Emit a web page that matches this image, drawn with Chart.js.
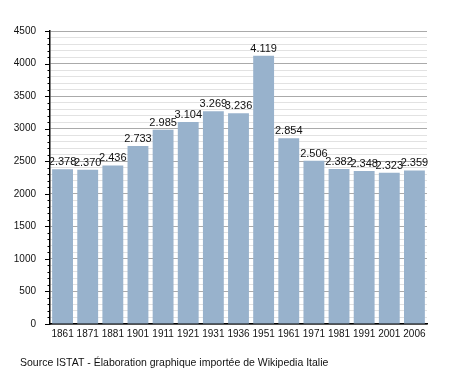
<!DOCTYPE html>
<html><head><meta charset="utf-8">
<script src="https://cdn.jsdelivr.net/npm/chart.js@4/dist/chart.umd.min.js"></script>
<style>html,body{margin:0;padding:0;background:#fff}#wrap{width:455px;height:373px}</style>
</head><body><div id="wrap"><canvas id="c" width="455" height="373"></canvas></div>
<script>
const categories = ["1861","1871","1881","1901","1911","1921","1931","1936","1951","1961","1971","1981","1991","2001","2006"];
const population = [2378,2370,2436,2733,2985,3104,3269,3236,4119,2854,2506,2382,2348,2323,2359];
const sourceText = "Source ISTAT - Élaboration graphique importée de Wikipedia Italie";
const FONT = "'Liberation Sans', Arial, sans-serif";

function fmt(v){ const s=String(v); return s.length>3 ? s.slice(0,s.length-3)+"."+s.slice(-3) : s; }

const labelPlugin = {
  id:'vals',
  afterDatasetsDraw(chart){
    const ctx=chart.ctx; const meta=chart.getDatasetMeta(0);
    ctx.save(); ctx.font="11px "+FONT; ctx.fillStyle="#111"; ctx.textAlign="center"; ctx.textBaseline="alphabetic";
    meta.data.forEach((el,i)=>{ ctx.fillText(fmt(population[i]), el.x, el.y-4); });
    ctx.restore();
  },
  afterDraw(chart){
    const ctx=chart.ctx; const y=chart.scales.y; const x0=y.right;
    ctx.save(); ctx.strokeStyle='#000'; ctx.lineWidth=1;
    y.ticks.forEach(t=>{
      const py=Math.round(y.getPixelForValue(t.value))+0.5;
      const len = t.value%500===0 ? 5 : 2.5;
      ctx.beginPath(); ctx.moveTo(x0-len,py); ctx.lineTo(x0,py); ctx.stroke();
    });
    ctx.restore();
    ctx.save(); ctx.font="10.5px "+FONT; ctx.fillStyle="#111"; ctx.textAlign="left"; ctx.textBaseline="alphabetic";
    ctx.fillText(sourceText, 20, 366); ctx.restore();
  }
};

new Chart(document.getElementById('c'), {
  type:'bar',
  data:{ labels:categories, datasets:[{ data:population, backgroundColor:'#98b2cc', borderWidth:0, barPercentage:0.83, categoryPercentage:1 }]},
  options:{
    responsive:false, animation:false,
    layout:{ padding:{ left:0, right:28, top:31, bottom:29 } },
    plugins:{ legend:{display:false}, tooltip:{enabled:false} },
    scales:{
      x:{
        grid:{ display:false, drawTicks:false },
        border:{ color:'#000', width:1.5 },
        ticks:{ color:'#111', font:{ family:FONT, size:10 }, padding:4, maxRotation:0, autoSkip:false },
        afterFit(s){ s.height=20; }
      },
      y:{
        min:0, max:4500,
        border:{ color:'#000', width:1.5 },
        grid:{
          color:(c)=> (c.tick && c.tick.value%500===0) ? '#aaaaaa' : '#e2e2e2',
          drawTicks:false, lineWidth:1
        },
        ticks:{ stepSize:100, color:'#111', font:{ family:FONT, size:10 }, padding:14, autoSkip:false,
          callback:(v)=> v%500===0 ? String(v) : '' },
        afterFit(s){ s.width=50; }
      }
    }
  },
  plugins:[labelPlugin]
});
</script></body></html>
